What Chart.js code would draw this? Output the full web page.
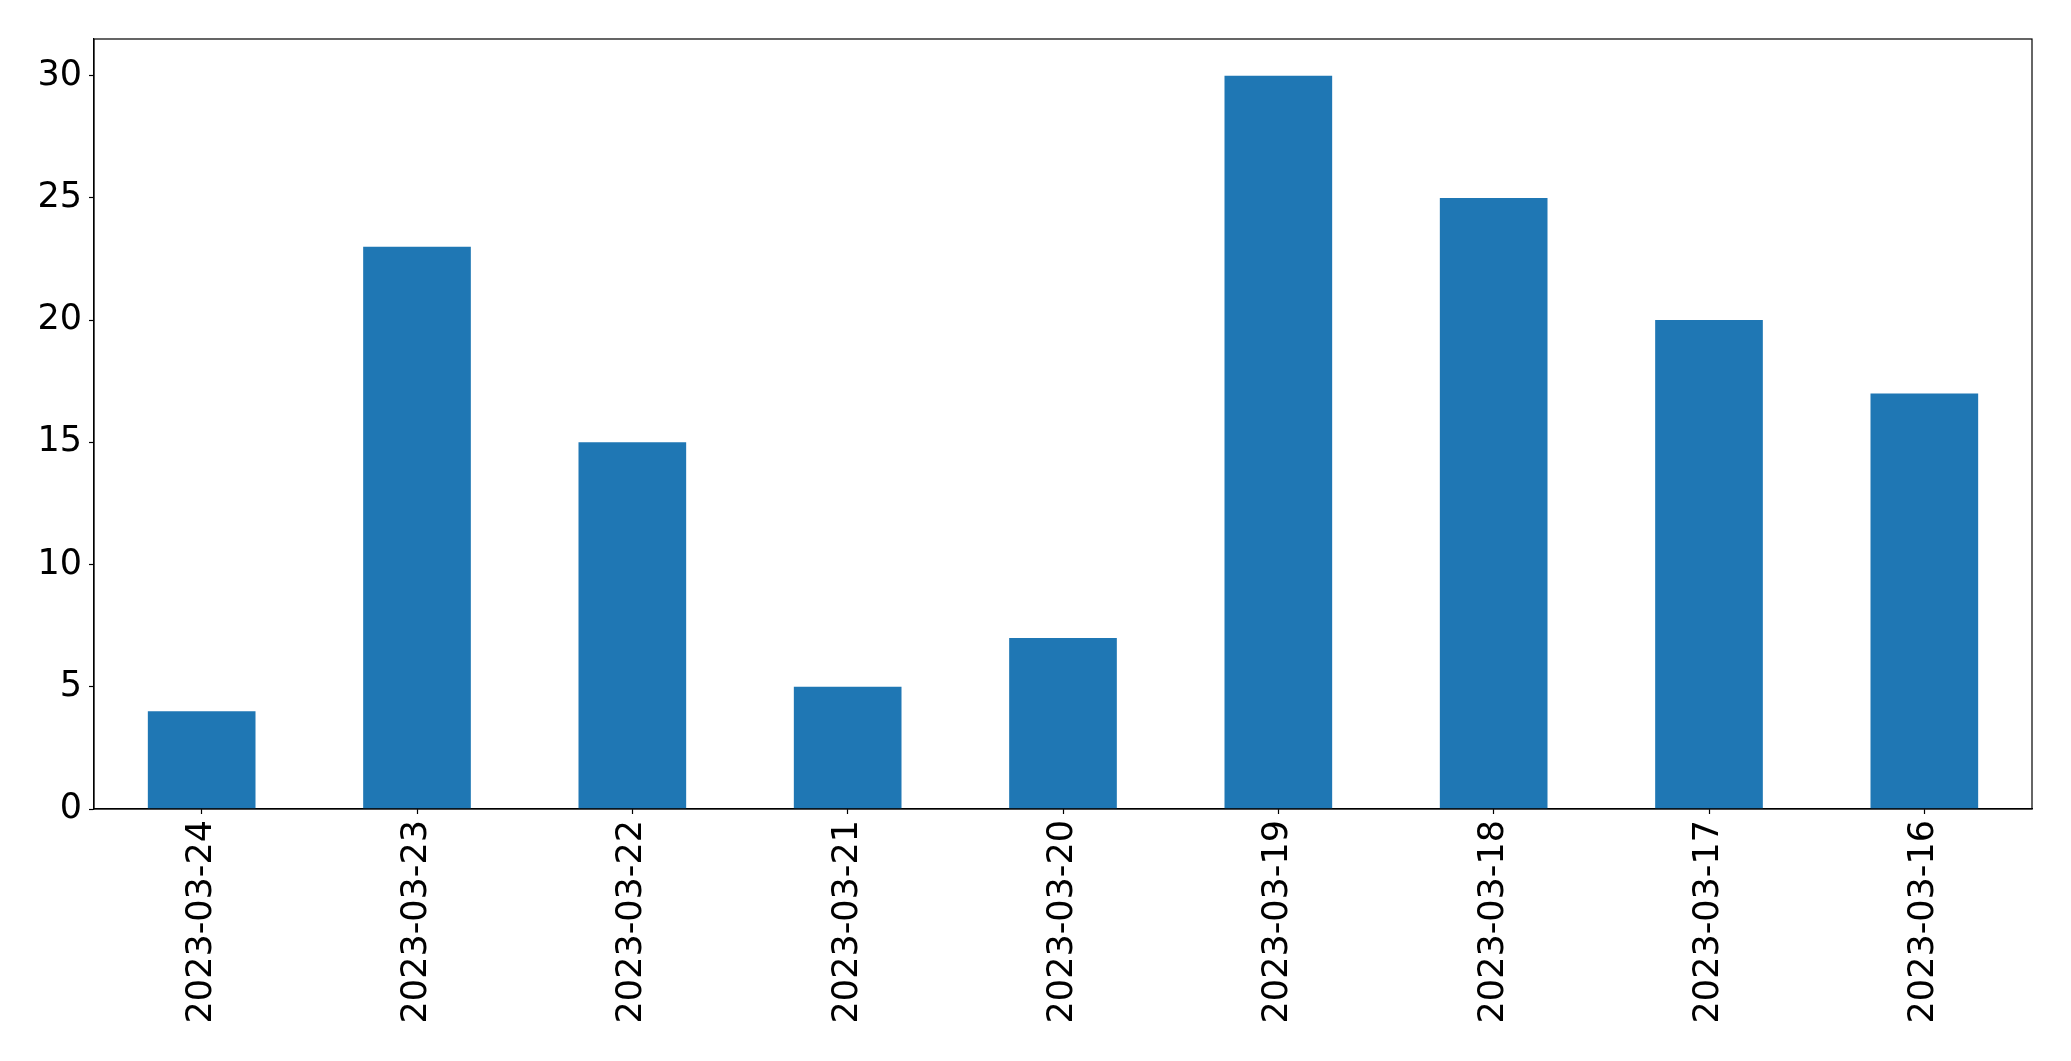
<!DOCTYPE html>
<html>
<head>
<meta charset="utf-8">
<script src="https://cdn.jsdelivr.net/npm/chart.js@4.4.0/dist/chart.umd.min.js"></script>
<style>
  html, body { margin: 0; padding: 0; background: #fff; }
  canvas { display: block; }
</style>
</head>
<body>
<canvas id="bar-chart" width="2071" height="1061"></canvas>
<script>
// chart data
const dates = ['2023-03-24', '2023-03-23', '2023-03-22', '2023-03-21', '2023-03-20',
               '2023-03-19', '2023-03-18', '2023-03-17', '2023-03-16'];
const counts = [4, 23, 15, 5, 7, 30, 25, 20, 17];
const yTicks = [0, 5, 10, 15, 20, 25, 30];

const tickFont = { family: 'DejaVu Sans', size: 35 };

// draws the full frame around the plot area, like matplotlib
const frameBox = {
    id: 'frameBox',
    afterDraw(chart) {
        const { ctx, chartArea } = chart;
        ctx.save();
        ctx.strokeStyle = '#000';
        ctx.lineWidth = 1.2;
        ctx.strokeRect(chartArea.left, chartArea.top,
            chartArea.right - chartArea.left, chartArea.bottom - chartArea.top);
        ctx.restore();
    }
};

new Chart(document.getElementById('bar-chart').getContext('2d'), {
    type: 'bar',
    data: {
        labels: dates,
        datasets: [{
            data: counts,
            backgroundColor: '#1f77b4',
            borderWidth: 0,
            barPercentage: 0.5,
            categoryPercentage: 1.0
        }]
    },
    options: {
        responsive: false,
        animation: false,
        layout: { padding: { top: 39, right: 39, left: 0, bottom: 0 } },
        plugins: {
            legend: { display: false },
            tooltip: { enabled: false }
        },
        scales: {
            x: {
                offset: true,
                grid: {
                    display: true,
                    offset: false,
                    drawOnChartArea: false,
                    drawTicks: true,
                    tickLength: 5,
                    tickColor: '#000',
                    tickWidth: 1.2
                },
                border: { display: true, color: '#000', width: 1.2 },
                ticks: {
                    color: '#000',
                    font: tickFont,
                    minRotation: 90,
                    maxRotation: 90,
                    padding: 6,
                    autoSkip: false
                },
                afterFit: (scale) => { scale.height = 252; }
            },
            y: {
                min: 0,
                max: 31.5,
                grid: {
                    display: true,
                    drawOnChartArea: false,
                    drawTicks: true,
                    tickLength: 5,
                    tickColor: '#000',
                    tickWidth: 1.2
                },
                border: { display: true, color: '#000', width: 1.2 },
                ticks: {
                    color: '#000',
                    font: tickFont,
                    padding: 7,
                    includeBounds: false,
                    stepSize: 5
                },
                afterBuildTicks: (scale) => {
                    scale.ticks = yTicks.map(v => ({ value: v }));
                },
                afterFit: (scale) => { scale.width = 94; }
            }
        }
    },
    plugins: [frameBox]
});
</script>
</body>
</html>
